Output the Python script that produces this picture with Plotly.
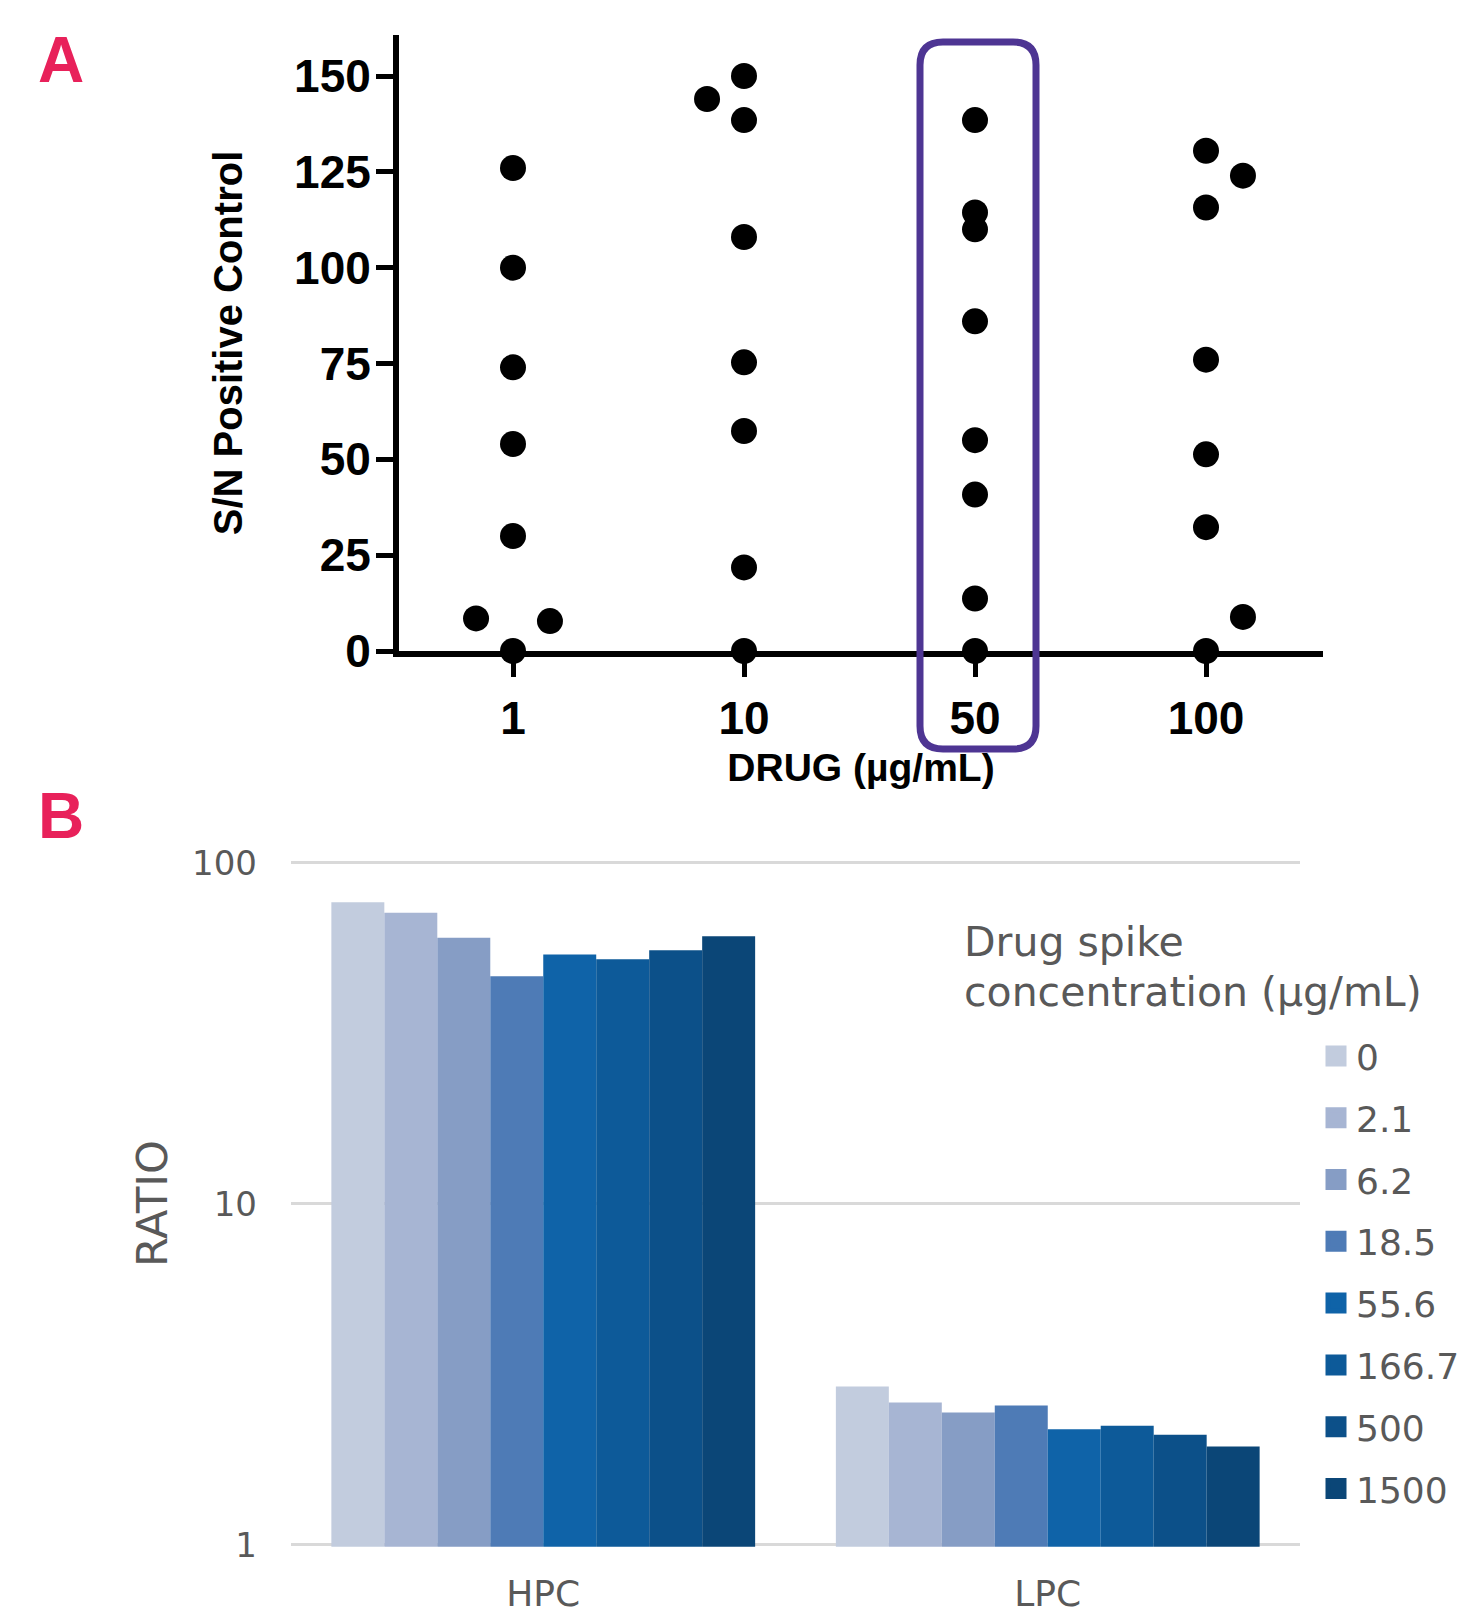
import plotly.graph_objects as go

W, H = 1458, 1618

# ---------------- Panel A data ----------------
doses = ["1", "10", "50", "100"]
sn_dose_1 = [126, 100, 74, 54, 30, 8.5, 7.8, 0]
sn_dose_10 = [144, 150, 138.5, 108, 75.3, 57.4, 21.8, 0]
sn_dose_50 = [138.5, 114.4, 110, 86, 55, 40.8, 13.7, 0]
sn_dose_100 = [130.5, 124, 115.7, 76, 51.3, 32.3, 8.9, 0]
# horizontal scatter offsets (fraction of a category) used to separate overlapping dots
jit_dose_1 = [0, 0, 0, 0, 0, -0.16, 0.16, 0]
jit_dose_10 = [-0.16, 0, 0, 0, 0, 0, 0, 0]
jit_dose_50 = [0, 0, 0, 0, 0, 0, 0, 0]
jit_dose_100 = [0, 0.16, 0, 0, 0, 0, 0.16, 0]
yticks_a = [0, 25, 50, 75, 100, 125, 150]

# ---------------- Panel B data ----------------
groups = ["HPC", "LPC"]
spike_levels = ["0", "2.1", "6.2", "18.5", "55.6", "166.7", "500", "1500"]
ratio_hpc = [76.5, 71.3, 60.2, 46.4, 53.8, 52.1, 55.3, 60.8]
ratio_lpc = [2.91, 2.61, 2.44, 2.56, 2.18, 2.23, 2.10, 1.94]
ratio_ticks = [1, 10, 100]

bar_colors = ["#C2CCDE", "#A7B5D3", "#869DC5", "#4E7BB6",
              "#0F63A8", "#0D5A99", "#0C5089", "#0B4677"]


def px(x):
    return x / W


def py(y):
    return 1 - y / H


fig = go.Figure()

# Panel A scatter
xs, ys = [], []
for i, (vals, jit) in enumerate([(sn_dose_1, jit_dose_1), (sn_dose_10, jit_dose_10),
                                 (sn_dose_50, jit_dose_50), (sn_dose_100, jit_dose_100)]):
    for v, j in zip(vals, jit):
        xs.append(i + j)
        ys.append(v)

fig.add_trace(go.Scatter(
    x=xs, y=ys, mode="markers", xaxis="x", yaxis="y",
    marker=dict(color="black", size=26, line=dict(width=0)),
    cliponaxis=False, showlegend=False, hoverinfo="y"))

# Panel B bars
for k, lvl in enumerate(spike_levels):
    fig.add_trace(go.Bar(
        x=groups, y=[ratio_hpc[k], ratio_lpc[k]], name=lvl,
        xaxis="x2", yaxis="y2", marker=dict(color=bar_colors[k], line=dict(width=0)),
        showlegend=False, legendgroup=lvl))
    # legend entry (square swatch)
    fig.add_trace(go.Scatter(
        x=[None], y=[None], name=lvl, mode="markers", xaxis="x2", yaxis="y2",
        marker=dict(symbol="square", size=16, color=bar_colors[k],
                    line=dict(color=bar_colors[k], width=5)),
        showlegend=True, legendgroup=lvl))

boldA = dict(family="Liberation Sans, Arial, sans-serif", color="black", weight="bold")
grayB = dict(family="DejaVu Sans, Verdana, sans-serif", color="#595959")

# panel A geometry (pixels): category centres 231 px apart, first at x=513
ax_left, ax_right, cat0, cat_step = 399, 1323, 513, 231
xr = [-(cat0 - ax_left) / cat_step, 3 + (ax_right - (cat0 + 3 * cat_step)) / cat_step]
ya_bot, ya_top = 651, 35
ya_range_top = 150 * (ya_bot - ya_top) / (ya_bot - 76)

# log-axis padding so the grid lines at 1 and 100 are not clipped at the plot edges
pad = 0.006
dec = 341.0  # pixels per decade
yb_top, yb_bot = 862.6 - pad * dec, 1544.6 + pad * dec

fig.update_layout(
    width=W, height=H,
    margin=dict(l=0, r=0, t=0, b=0, autoexpand=False),
    paper_bgcolor="white", plot_bgcolor="white",
    barmode="group", bargap=0.16, bargroupgap=0,
    xaxis=dict(
        domain=[px(ax_left), px(ax_right)], range=xr, anchor="y", automargin=False,
        tickmode="array", tickvals=[0, 1, 2, 3], ticktext=doses,
        showline=True, linewidth=6, linecolor="black",
        ticks="outside", ticklen=20, tickwidth=5, tickcolor="black",
        ticklabelstandoff=2,
        tickfont=dict(size=46, **boldA),
        showgrid=False, zeroline=False,
        title=dict(text="DRUG (µg/mL)", font=dict(size=39, **boldA), standoff=12),
    ),
    yaxis=dict(
        domain=[py(ya_bot), py(ya_top)], range=[0, ya_range_top], anchor="x",
        automargin=False,
        tickmode="array", tickvals=yticks_a,
        showline=True, linewidth=6, linecolor="black",
        ticks="outside", ticklen=17, tickwidth=5, tickcolor="black",
        ticklabelstandoff=-4,
        tickfont=dict(size=46, **boldA),
        showgrid=False, zeroline=False,
        title=dict(text="S/N Positive Control", font=dict(size=40, **boldA), standoff=41),
    ),
    xaxis2=dict(
        domain=[px(291), px(1300)], anchor="y2", automargin=False,
        showline=False, showgrid=False, zeroline=False, ticks="",
        ticklabelstandoff=22,
        tickfont=dict(size=36, **grayB),
    ),
    yaxis2=dict(
        domain=[py(yb_bot), py(yb_top)], anchor="x2", type="log", range=[-pad, 2 + pad],
        automargin=False,
        tickmode="array", tickvals=ratio_ticks, ticktext=[str(t) for t in ratio_ticks],
        showline=False, zeroline=False, ticks="",
        showgrid=True, gridcolor="#D9D9D9", gridwidth=2.5,
        ticklabelstandoff=33,
        tickfont=dict(size=34, **grayB),
        title=dict(text="RATIO", font=dict(size=43, **grayB), standoff=11),
    ),
    legend=dict(
        x=px(1316), xanchor="left", y=py(1026), yanchor="top",
        font=dict(size=36, **grayB), bgcolor="rgba(0,0,0,0)",
        tracegroupgap=12, itemclick=False, itemdoubleclick=False,
    ),
    annotations=[
        dict(text="A", x=px(36), y=py(22), xref="paper", yref="paper",
             xanchor="left", yanchor="top", showarrow=False,
             font=dict(family="Liberation Sans, Arial, sans-serif", size=64,
                       color="#E8215A", weight="bold")),
        dict(text="B", x=px(36), y=py(778), xref="paper", yref="paper",
             xanchor="left", yanchor="top", showarrow=False,
             font=dict(family="Liberation Sans, Arial, sans-serif", size=64,
                       color="#E8215A", weight="bold")),
        dict(text="Drug spike", x=px(962), y=py(916), xref="paper", yref="paper",
             xanchor="left", yanchor="top", align="left", showarrow=False,
             font=dict(size=41, **grayB)),
        dict(text="concentration (µg/mL)", x=px(962), y=py(966), xref="paper", yref="paper",
             xanchor="left", yanchor="top", align="left", showarrow=False,
             font=dict(size=41, **grayB)),
    ],
)

# rounded highlight box around the 50 µg/mL column (pixel coords -> paper)
x0, x1, y0, y1, r = 920, 1036, 42, 749, 23
path = (f"M {px(x0 + r)},{py(y0)} L {px(x1 - r)},{py(y0)} "
        f"Q {px(x1)},{py(y0)} {px(x1)},{py(y0 + r)} "
        f"L {px(x1)},{py(y1 - r)} Q {px(x1)},{py(y1)} {px(x1 - r)},{py(y1)} "
        f"L {px(x0 + r)},{py(y1)} Q {px(x0)},{py(y1)} {px(x0)},{py(y1 - r)} "
        f"L {px(x0)},{py(y0 + r)} Q {px(x0)},{py(y0)} {px(x0 + r)},{py(y0)} Z")
fig.add_shape(type="path", path=path, xref="paper", yref="paper",
              line=dict(color="#4E3593", width=7), fillcolor="rgba(0,0,0,0)",
              layer="above")

fig.write_html("out.html", config={"displayModeBar": False},
               post_script="document.body.style.margin='0';document.body.style.overflow='hidden';")
